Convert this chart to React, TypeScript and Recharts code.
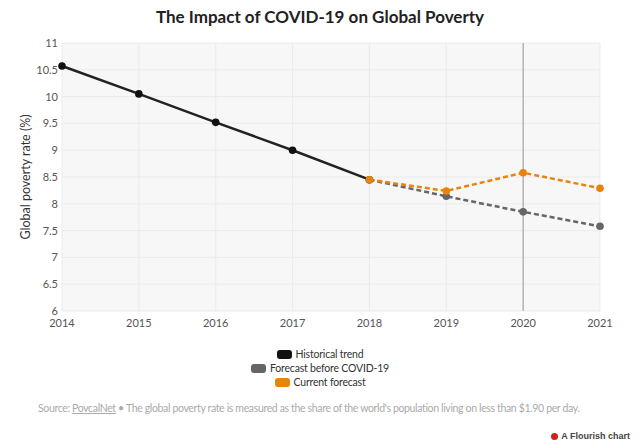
import { LineChart, Line, XAxis, YAxis, CartesianGrid, ReferenceLine } from "recharts";

const YEARS = [2014, 2015, 2016, 2017, 2018, 2019, 2020, 2021];
const HISTORICAL = [10.57, 10.05, 9.52, 9.0, 8.45, null, null, null];
const BEFORE_COVID = [null, null, null, null, 8.45, 8.14, 7.85, 7.58];
const CURRENT = [null, null, null, null, 8.45, 8.24, 8.58, 8.29];
const Y_TICKS = [6, 6.5, 7, 7.5, 8, 8.5, 9, 9.5, 10, 10.5, 11];

const FONT = "Lato, 'Noto Sans', sans-serif";

const LEGEND = [
  { name: "Historical trend", color: "#111111" },
  { name: "Forecast before COVID-19", color: "#666666" },
  { name: "Current forecast", color: "#e8830c" },
];

const data = YEARS.map((year, i) => ({
  year,
  historical: HISTORICAL[i],
  before: BEFORE_COVID[i],
  current: CURRENT[i],
}));

export default function App() {
  return (
    <div
      style={{
        position: "absolute",
        left: 0,
        top: 0,
        width: 640,
        height: 448,
        background: "#fff",
        fontFamily: FONT,
        overflow: "hidden",
      }}
    >
      <div
        style={{
          position: "absolute",
          top: 6,
          width: 640,
          textAlign: "center",
          fontSize: 17,
          fontWeight: 700,
          color: "#222",
        }}
      >
        The Impact of COVID-19 on Global Poverty
      </div>

      <div style={{ position: "absolute", left: 0, top: 0 }}>
        <LineChart width={640} height={340} data={data} margin={{ top: 43, right: 40, bottom: 9, left: 22 }}>
          <CartesianGrid fill="#f7f7f7" stroke="#ebebeb" verticalValues={YEARS} />
          <XAxis
            dataKey="year"
            type="number"
            domain={[2014, 2021]}
            ticks={YEARS}
            height={20}
            tickLine={false}
            axisLine={false}
            tickSize={0}
            tickMargin={8}
            tick={{ fontSize: 11, fill: "#555", fontFamily: FONT }}
          />
          <YAxis
            type="number"
            domain={[6, 11]}
            ticks={Y_TICKS}
            width={40}
            tickLine={false}
            axisLine={false}
            tickSize={0}
            tickMargin={4}
            tick={{ fontSize: 11, fill: "#555", fontFamily: FONT }}
            label={{
              value: "Global poverty rate (%)",
              angle: -90,
              position: "insideLeft",
              offset: 0,
              dx: 4,
              style: { fontSize: 12.5, fill: "#333", fontFamily: FONT, textAnchor: "middle" },
            }}
          />
          <ReferenceLine x={2020} stroke="#999" strokeWidth={1} />
          <Line
            dataKey="historical"
            stroke="#222"
            strokeWidth={2.5}
            dot={{ r: 3.8, fill: "#111", stroke: "#111", strokeWidth: 0 }}
            connectNulls={false}
            isAnimationActive={false}
          />
          <Line
            dataKey="before"
            stroke="#666"
            strokeWidth={2.5}
            strokeDasharray="5 3"
            dot={{ r: 3.8, fill: "#666", stroke: "#666", strokeWidth: 0, strokeDasharray: "" }}
            isAnimationActive={false}
          />
          <Line
            dataKey="current"
            stroke="#e8830c"
            strokeWidth={2.5}
            strokeDasharray="5 3"
            dot={{ r: 3.8, fill: "#e8830c", stroke: "#e8830c", strokeWidth: 0, strokeDasharray: "" }}
            isAnimationActive={false}
          />
        </LineChart>
      </div>

      <div
        style={{
          position: "absolute",
          top: 347,
          width: 640,
          display: "flex",
          flexDirection: "column",
          alignItems: "center",
          fontSize: 10.5,
          letterSpacing: -0.2,
          color: "#333",
          lineHeight: "14px",
        }}
      >
        {LEGEND.map((l) => (
          <div key={l.name} style={{ display: "flex", alignItems: "center" }}>
            <span
              style={{
                display: "inline-block",
                width: 15,
                height: 9,
                borderRadius: 3,
                background: l.color,
                marginRight: 4,
              }}
            />
            {l.name}
          </div>
        ))}
      </div>

      <div
        style={{
          position: "absolute",
          top: 402,
          left: 38,
          fontSize: 10.5,
          letterSpacing: -0.35,
          whiteSpace: "nowrap",
          color: "#aaa",
        }}
      >
        Source: <span style={{ textDecoration: "underline" }}>PovcalNet</span> • The global poverty rate is measured
        as the share of the world's population living on less than $1.90 per day.
      </div>

      <div
        style={{
          position: "absolute",
          top: 431,
          right: 10,
          fontSize: 9,
          fontFamily: "'Liberation Sans', Arial, sans-serif",
          fontWeight: 700,
          color: "#444",
          display: "flex",
          alignItems: "center",
        }}
      >
        <span
          style={{
            display: "inline-block",
            width: 7,
            height: 7,
            borderRadius: 4,
            background: "#d12020",
            marginRight: 3,
          }}
        />
        A Flourish chart
      </div>
    </div>
  );
}
